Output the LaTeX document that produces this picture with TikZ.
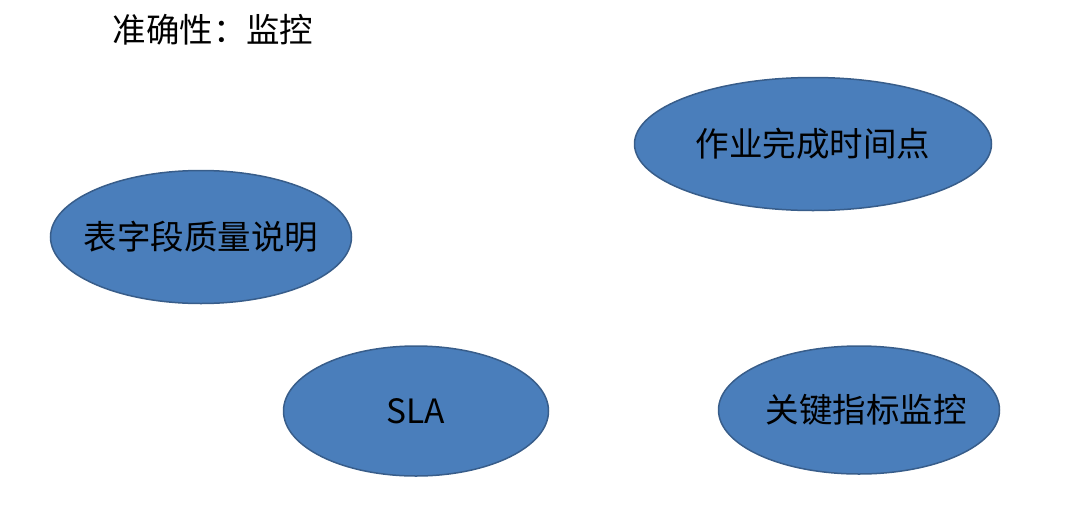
\documentclass[tikz,border=0pt]{standalone}
\usepackage{fontspec}
\setmainfont{Noto Sans CJK SC}
\usetikzlibrary{shapes.geometric}
\definecolor{ellfill}{HTML}{4A7EBB}
\definecolor{elldraw}{HTML}{385D8A}
\tikzset{
  bubble/.style={ellipse, draw=elldraw, line width=1.5pt, fill=ellfill, inner sep=0pt},
  bubbletext/.style={inner sep=0pt, text=black, font=\fontsize{33.5}{38}\selectfont},
  titletext/.style={inner sep=0pt, text=black, font=\fontsize{33.5}{38}\selectfont}
}
\begin{document}
\begin{tikzpicture}[x=1pt,y=-1pt]
\useasboundingbox (0,0) rectangle (1080,520);
\node[titletext] (title) at (213,30) {准确性：监控};
\node[bubble, minimum width=357pt, minimum height=133pt] (job) at (813,144) {};
\node[bubbletext] (jobt) at (job.center) {作业完成时间点};
\node[bubble, minimum width=301pt, minimum height=133pt] (field) at (201,237) {};
\node[bubbletext] (fieldt) at (field.center) {表字段质量说明};
\node[bubble, minimum width=265pt, minimum height=130pt] (sla) at (416,411) {};
\node[bubbletext] (slat) at (sla.center) {SLA};
\node[bubble, minimum width=281pt, minimum height=128pt] (kpi) at (859,410) {};
\node[bubbletext] (kpit) at ([xshift=7pt]kpi.center) {关键指标监控};
\end{tikzpicture}
\end{document}
